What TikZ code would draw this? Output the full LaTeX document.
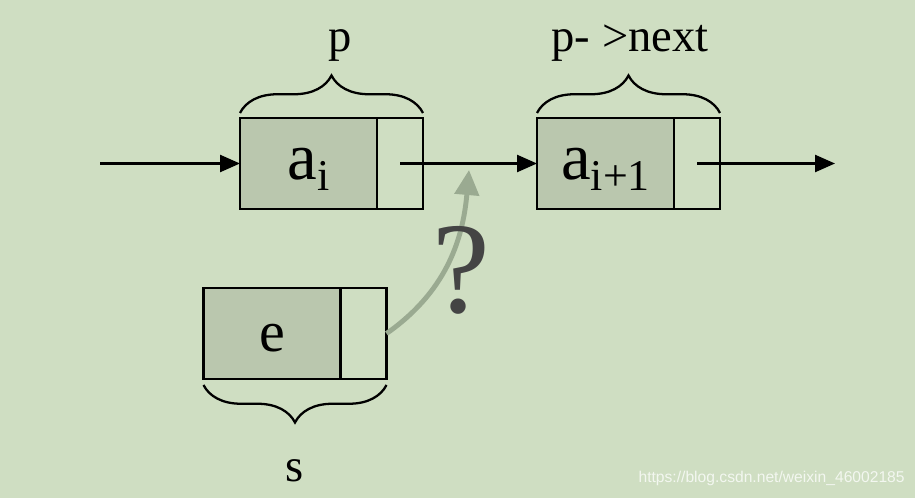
\documentclass[tikz,border=0pt]{standalone}
\usepackage{fontspec}
\setmainfont{Liberation Serif}
\newfontfamily\wmfont{Liberation Sans}
\usetikzlibrary{positioning}
\usetikzlibrary{arrows.meta}
\usetikzlibrary{decorations.pathreplacing}
\definecolor{bgcol}{HTML}{CFDEC2}
\definecolor{datacol}{HTML}{BAC7AE}
\definecolor{qcol}{HTML}{444444}
\definecolor{curvecol}{HTML}{9AAA91}
\newcommand{\lowsub}[1]{\raisebox{-0.16em}{\fontsize{25}{26}\selectfont #1}}
\tikzset{
  datafield/.style={draw, line width=1.4pt, fill=datacol, minimum width=2.74cm, minimum height=1.82cm, inner sep=0pt, outer sep=0pt},
  ptrfield/.style={draw, line width=1.4pt, fill=bgcol, minimum width=0.92cm, minimum height=1.82cm, inner sep=0pt, outer sep=0pt},
  lnk/.style={line width=1.4pt, -{Triangle[length=0.4cm,width=0.34cm]}},
  bracedeco/.style={decorate, decoration={brace, amplitude=0.75cm}, line width=1.3pt},
  lbl/.style={font=\fontsize{26.5}{30}\selectfont, anchor=base, inner sep=0pt}
}

\begin{document}
\begin{tikzpicture}
\useasboundingbox (0,0) rectangle (18.3,9.96);
\fill[bgcol] (0,0) rectangle (18.3,9.96);
% the two list nodes
\node[datafield, font=\fontsize{38}{40}\selectfont, text height=0.86cm, text depth=0.2cm] (a1) at (6.17,6.69) {a\lowsub{i}};
\node[ptrfield, right=0pt of a1] (p1) {};
\node[datafield, font=\fontsize{38}{40}\selectfont, text height=0.86cm, text depth=0.2cm, right=2.28cm of p1] (a2) {a\lowsub{i+1}};
\node[ptrfield, right=0pt of a2] (p2) {};
% the new node s
\node[datafield, font=\fontsize{33}{36}\selectfont, text height=0.94cm, text depth=0.2cm] (as) at (5.44,3.29) {e};
\node[ptrfield, right=0pt of as] (ps) {};
\coordinate (in) at (2.0,6.69);
\coordinate (out) at (16.7,6.69);
\draw[lnk] (in) -- (a1);
\draw[lnk] (p1.center) -- (a2);
\draw[lnk] (p2.center) -- (out);
% braces
\draw[bracedeco] ([yshift=0.1cm]a1.north west) -- ([yshift=0.1cm]p1.north east);
\draw[bracedeco] ([yshift=0.1cm]a2.north west) -- ([yshift=0.1cm]p2.north east);
\draw[bracedeco] ([yshift=-0.12cm]ps.south east) -- ([yshift=-0.12cm]as.south west);
\node[lbl] (lp) at (6.8,8.92) {p};
\node[lbl] (lnext) at (12.6,8.92) {p- >next};
\node[lbl] (ls) at (5.9,0.32) {s};
% where does s go?
\coordinate (tipc) at (9.38,6.56);
\draw[line width=2.8pt, curvecol, -{Triangle[length=0.5cm,width=0.48cm]}] (ps.east) to[out=35, in=-95] (tipc);
\node[text=qcol, font=\fontsize{74}{80}\selectfont] (q) at (9.22,4.56) {?};
\node[anchor=east, inner sep=0pt, text=white!75!bgcol, font=\wmfont\fontsize{8.9}{10}\selectfont] (wm) at (18.1,0.4) {https://blog.csdn.net/weixin\_46002185};
\end{tikzpicture}
\end{document}
